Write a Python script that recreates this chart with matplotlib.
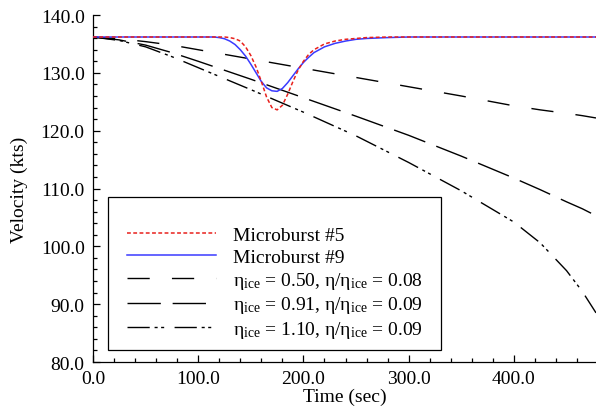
import matplotlib
matplotlib.use("Agg")
from matplotlib import pyplot as plt
from matplotlib.ticker import MultipleLocator, FormatStrFormatter
from matplotlib.offsetbox import DrawingArea

plt.rcParams["font.family"] = ["Liberation Serif", "DejaVu Serif"]
plt.rcParams["mathtext.fontset"] = "custom"
plt.rcParams["mathtext.rm"] = "Liberation Serif"
plt.rcParams["mathtext.it"] = "Liberation Serif:italic"

# microburst velocity traces
t_mb5 = [0, 100, 120, 125, 130, 135, 140, 145, 150, 155, 160, 165, 170, 175, 180, 185,
         190, 195, 200, 205, 210, 220, 230, 240, 260, 280, 300, 400, 478]
v_mb5 = [136.2, 136.2, 136.2, 136.2, 136.1, 135.9, 135.5, 134.5, 133.0, 131.0, 128.5, 125.8,
         124.0, 123.6, 124.4, 126.3, 128.5, 130.5, 132.0, 133.2, 134.0, 135.0, 135.5, 135.8,
         136.1, 136.2, 136.2, 136.2, 136.2]

t_mb9 = [0, 100, 115, 120, 125, 130, 135, 140, 145, 150, 155, 160, 165, 170, 175, 180,
         185, 190, 195, 200, 205, 210, 220, 230, 240, 250, 260, 280, 300, 400, 478]
v_mb9 = [136.2, 136.2, 136.2, 136.1, 135.9, 135.5, 134.9, 134.0, 132.9, 131.5, 130.0, 128.5,
         127.4, 126.9, 126.8, 127.3, 128.3, 129.5, 130.7, 131.8, 132.7, 133.5, 134.5, 135.1,
         135.5, 135.8, 135.95, 136.1, 136.2, 136.2, 136.2]

# icing cases
t_ice = [0, 25, 50, 75, 100, 150, 200, 250, 300, 350, 400, 425, 450, 465, 478]
v_ice050 = [136.2, 135.9, 135.4, 134.8, 134.0, 132.4, 130.8, 129.2, 127.6, 126.0, 124.3,
            123.6, 123.0, 122.6, 122.2]
v_ice091 = [136.2, 135.7, 134.8, 133.5, 132.0, 128.9, 125.7, 122.5, 119.2, 115.6, 111.8,
            109.8, 107.7, 106.5, 105.3]
v_ice110 = [136.2, 135.6, 134.5, 132.8, 130.9, 127.1, 123.2, 119.1, 114.5, 109.6, 104.2,
            100.6, 95.8, 92.2, 88.5]

labels = ["Microburst #5", "Microburst #9",
          r"η$_{\mathrm{ice}}$ = 0.50, η/η$_{\mathrm{ice}}$ = 0.08",
          r"η$_{\mathrm{ice}}$ = 0.91, η/η$_{\mathrm{ice}}$ = 0.09",
          r"η$_{\mathrm{ice}}$ = 1.10, η/η$_{\mathrm{ice}}$ = 0.09"]

fig = plt.figure(figsize=(5.96, 4.10), dpi=100)
ax = fig.add_axes([0.156, 0.1146, 0.844, 0.8463])

ax.plot(t_mb5, v_mb5, color="#e8201c", lw=1.1, dashes=(2.5, 1.6), label=labels[0], zorder=4)
ax.plot(t_mb9, v_mb9, color="#3a3aff", lw=1.1, label=labels[1], zorder=3)
ax.plot(t_ice, v_ice050, color="black", lw=1.0, dashes=(16, 16), label=labels[2])
ax.plot(t_ice, v_ice091, color="black", lw=1.0, dashes=(24, 8.5), label=labels[3])
ax.plot(t_ice, v_ice110, color="black", lw=1.0,
        dashes=(16, 3.5, 2.2, 2.5, 2.2, 7.5), label=labels[4])

ax.set_xlim(0, 478)
ax.set_ylim(80, 140)
ax.xaxis.set_major_locator(MultipleLocator(100))
ax.xaxis.set_minor_locator(MultipleLocator(20))
ax.yaxis.set_major_locator(MultipleLocator(10))
ax.yaxis.set_minor_locator(MultipleLocator(2))
ax.xaxis.set_major_formatter(FormatStrFormatter("%.1f"))
ax.yaxis.set_major_formatter(FormatStrFormatter("%.1f"))
ax.tick_params(which="both", direction="in", labelsize=14, top=False, right=False)
ax.tick_params(which="major", length=5, width=0.9, pad=6)
ax.tick_params(which="minor", length=3, width=0.9)
ax.spines["top"].set_visible(False)
ax.spines["right"].set_visible(False)
for s in ("left", "bottom"):
    ax.spines[s].set_linewidth(0.9)
ax.set_xlabel("Time (sec)", fontsize=14, labelpad=0)
ax.set_ylabel("Velocity (kts)", fontsize=14, labelpad=9)

leg = ax.legend(loc="lower left", bbox_to_anchor=(0.0298, 0.0346, 0.662, 0.44),
                mode="expand", fontsize=14, title=" ", title_fontsize=12,
                handlelength=4.6, handletextpad=0.85, labelspacing=0.2,
                borderpad=0.5, borderaxespad=0, columnspacing=0.0,
                fancybox=False, framealpha=1)
leg.get_frame().set_edgecolor("black")
leg.get_frame().set_linewidth(0.9)
leg._legend_box.align = "left"
# centre the entry column inside the wide frame
leg._legend_handle_box._children.insert(0, DrawingArea(0, 0))
leg._legend_handle_box._children.append(DrawingArea(0, 0))

fig.savefig("out.png", dpi=100)
